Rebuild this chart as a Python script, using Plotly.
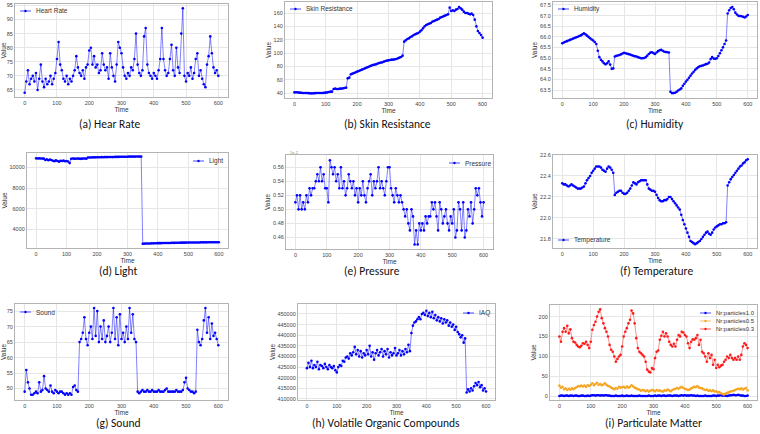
import plotly.graph_objects as go

W, H = 760, 434

# ---------------- data ----------------
TIME = list(range(0, 601, 5))

HEART_RATE = [64, 68, 72, 67, 69, 70, 68, 71, 65, 69,
              74, 68, 66, 69, 67, 68, 70, 67, 69, 71,
              76, 82, 74, 72, 69, 68, 70, 67, 69, 68,
              70, 72, 77, 73, 71, 70, 72, 69, 73, 74,
              79, 80, 74, 77, 73, 74, 71, 72, 78, 74,
              72, 73, 69, 78, 73, 70, 68, 74, 82, 80,
              78, 73, 70, 69, 71, 70, 73, 72, 76, 85,
              74, 71, 70, 72, 84, 87, 74, 71, 70, 69,
              71, 70, 69, 72, 76, 87, 76, 72, 70, 71,
              76, 81, 72, 70, 80, 73, 71, 85, 94, 70,
              68, 71, 70, 73, 69, 71, 76, 78, 70, 72,
              69, 67, 66, 74, 77, 84, 78, 73, 71, 72,
              70]

SKIN_RESISTANCE = [41, 41, 41, 40.5, 40.5, 40, 40, 40, 40, 39.8,
                   39.5, 39.5, 39.5, 39.8, 40, 40, 40, 40, 40, 40.2,
                   40.5, 41, 41.5, 42, 42, 46, 46.5, 46, 46, 46.5,
                   46.5, 47, 47.5, 48, 62, 63, 68, 69, 70, 71,
                   72, 73, 74, 75, 76, 77, 78, 79, 80, 81,
                   82, 82.5, 83, 84, 85, 85.5, 86, 87, 88, 88.5,
                   89, 89.5, 90, 90, 90.5, 91, 92, 93, 94, 96,
                   117, 119, 121, 122, 124, 125, 127, 128, 129, 130,
                   132, 134, 137, 140, 142, 143, 144, 145, 147, 148,
                   149, 150, 151, 153, 154, 155, 156, 157, 158, 168,
                   163, 164, 163, 165, 166, 169, 167, 165, 162, 160,
                   160, 159, 158, 159, 157, 150, 140, 133, 130, 127,
                   123]

HUMIDITY = [65.70, 65.74, 65.77, 65.80, 65.83, 65.86, 65.89, 65.92, 65.95, 65.98,
            66.01, 66.04, 66.07, 66.12, 66.17, 66.12, 66.06, 66.00, 65.94, 65.88,
            65.83, 65.76, 65.67, 65.35, 65.05, 64.93, 64.85, 64.76, 64.71, 64.76,
            64.85, 64.70, 64.50, 64.52, 65.08, 65.11, 65.13, 65.15, 65.18, 65.22,
            65.25, 65.23, 65.21, 65.19, 65.17, 65.14, 65.11, 65.09, 65.08, 65.05,
            65.02, 65.00, 65.00, 65.01, 65.05, 65.12, 65.20, 65.26, 65.28, 65.24,
            65.20, 65.27, 65.33, 65.37, 65.39, 65.35, 65.30, 65.29, 65.28, 65.27,
            63.42, 63.36, 63.36, 63.38, 63.42, 63.48, 63.53, 63.58, 63.70, 63.80,
            63.90, 63.99, 64.08, 64.18, 64.28, 64.36, 64.45, 64.52, 64.58, 64.62,
            64.64, 64.66, 64.69, 64.72, 64.74, 64.80, 64.96, 65.05, 64.98, 64.97,
            65.00, 65.10, 65.23, 65.37, 65.51, 65.67, 65.83, 67.10, 67.25, 67.36,
            67.40, 67.30, 67.14, 67.05, 66.99, 66.98, 66.97, 66.95, 66.91, 66.96,
            67.03]

LIGHT = [10880, 10870, 10880, 10870, 10860, 10850, 10720, 10780, 10700, 10760,
         10720, 10650, 10610, 10680, 10620, 10560, 10640, 10620, 10660, 10600,
         10620, 10580, 10420, 10830, 10860, 10850, 10840, 10860, 10850, 10830,
         10850, 10860, 10860, 10850, 10960, 10970, 10970, 10980, 10980, 10980,
         10990, 10990, 10990, 11000, 10990, 11000, 11000, 11000, 11010, 11010,
         11000, 11010, 11020, 11020, 11020, 11030, 11030, 11030, 11040, 11040,
         11040, 11050, 11050, 11050, 11050, 11050, 11060, 11060, 11050, 11050,
         2590, 2600, 2610, 2610, 2620, 2620, 2630, 2630, 2640, 2640,
         2650, 2650, 2650, 2660, 2660, 2660, 2670, 2670, 2670, 2680,
         2680, 2680, 2690, 2690, 2690, 2700, 2700, 2700, 2700, 2710,
         2710, 2710, 2710, 2720, 2720, 2720, 2720, 2720, 2730, 2730,
         2730, 2730, 2730, 2740, 2740, 2740, 2740, 2740, 2740, 2740,
         2740]

PRESSURE = [0.51, 0.52, 0.50, 0.52, 0.50, 0.51, 0.50, 0.52, 0.51, 0.53,
            0.52, 0.53, 0.53, 0.54, 0.55, 0.54, 0.56, 0.54, 0.55, 0.53,
            0.53, 0.51, 0.57, 0.56, 0.55, 0.56, 0.54, 0.55, 0.53, 0.56,
            0.53, 0.54, 0.52, 0.53, 0.55, 0.54, 0.53, 0.54, 0.52, 0.53,
            0.51, 0.53, 0.52, 0.54, 0.52, 0.51, 0.53, 0.54, 0.55, 0.52,
            0.54, 0.53, 0.54, 0.56, 0.53, 0.54, 0.53, 0.52, 0.54, 0.56,
            0.56, 0.53, 0.52, 0.51, 0.53, 0.52, 0.51, 0.52, 0.51, 0.50,
            0.49, 0.50, 0.48, 0.47, 0.50, 0.49, 0.45, 0.47, 0.45, 0.48,
            0.47, 0.48, 0.47, 0.49, 0.48, 0.49, 0.49, 0.51, 0.50, 0.51,
            0.49, 0.47, 0.51, 0.50, 0.48, 0.49, 0.50, 0.48, 0.47, 0.49,
            0.48, 0.50, 0.46, 0.47, 0.51, 0.50, 0.47, 0.51, 0.46, 0.47,
            0.50, 0.49, 0.51, 0.48, 0.50, 0.53, 0.52, 0.53, 0.51, 0.49,
            0.51]

TEMPERATURE = [22.33, 22.32, 22.32, 22.31, 22.30, 22.31, 22.32, 22.31, 22.30, 22.29,
               22.28, 22.28, 22.28, 22.29, 22.30, 22.33, 22.36, 22.38, 22.40, 22.43,
               22.45, 22.47, 22.49, 22.49, 22.49, 22.48, 22.46, 22.45, 22.44, 22.47,
               22.49, 22.48, 22.46, 22.43, 22.22, 22.24, 22.25, 22.26, 22.26, 22.24,
               22.23, 22.23, 22.24, 22.26, 22.28, 22.31, 22.34, 22.33, 22.32, 22.34,
               22.35, 22.36, 22.36, 22.36, 22.36, 22.32, 22.28, 22.27, 22.26, 22.26,
               22.25, 22.22, 22.19, 22.17, 22.16, 22.16, 22.17, 22.17, 22.18, 22.20,
               22.20, 22.18, 22.16, 22.14, 22.12, 22.10, 22.08, 22.03, 21.98, 21.94,
               21.90, 21.86, 21.82, 21.78, 21.77, 21.76, 21.75, 21.76, 21.77, 21.78,
               21.80, 21.82, 21.84, 21.86, 21.87, 21.85, 21.84, 21.86, 21.89, 21.91,
               21.92, 21.93, 21.94, 21.94, 21.95, 21.95, 21.96, 22.31, 22.34, 22.37,
               22.39, 22.41, 22.43, 22.45, 22.47, 22.49, 22.50, 22.52, 22.53, 22.55,
               22.56]

SOUND = [49, 56, 52, 50, 48, 48, 48.5, 49, 48.5, 52,
         49, 49.5, 54, 50, 49.5, 49, 51, 49, 48.5, 49.5,
         49, 48.5, 49, 49, 48.5, 48, 48.5, 48, 48.5, 48,
         50.5, 51, 49.5, 49, 65, 66, 68, 73, 66, 64,
         68, 70, 66, 76, 67, 75, 65, 70, 66, 72,
         65, 67, 70, 65, 68, 76, 66, 73, 64, 74,
         66, 68, 65, 70, 66, 76, 68, 74, 66, 65,
         49, 48.5, 49, 49.5, 49, 49, 49.5, 49, 49, 49.5,
         49, 49, 49, 49.5, 49, 49, 49, 49.5, 50, 49,
         49, 49, 49, 49, 49.5, 49, 49, 49, 49.5, 52,
         53.5, 50, 49.5, 49, 49, 48.5, 49, 69, 65, 64,
         66, 72, 76, 68, 73, 66, 71, 67, 68, 66,
         64]

IAQ = [424500, 427000, 425000, 428000, 424500, 426000, 425000, 427500, 424000, 426000,
       425500, 424500, 426500, 425000, 424000, 426000, 425000, 424500, 425500, 423500,
       422500, 425000, 426000, 425500, 428000, 427500, 429500, 430000, 429000, 431500,
       430500, 432000, 434500, 431000, 433000, 430000, 432500, 429500, 431500, 430500,
       433000, 431000, 435000, 430000, 432000, 428500, 431500, 433000, 430500, 432000,
       433500, 430000, 432500, 431000, 433500, 429500, 432000, 430500, 431500, 434000,
       430500, 431500, 433000, 430500, 432500, 431000, 433500, 432000, 435500, 432500,
       441000, 444500, 446000, 446500, 447500, 448500, 447500, 450000, 450500, 449500,
       451500, 449000, 450500, 448500, 451000, 448000, 449500, 447000, 448500, 446500,
       448000, 445500, 447500, 446000, 447000, 444500, 446000, 444000, 445000, 442500,
       444000, 441500, 440500, 439000, 440000, 436500, 438500, 413000, 414500, 413500,
       415000, 414000, 416000, 417500, 416500, 418000, 415500, 416500, 414000, 415000,
       413500]

PARTICLES_1_0 = [1, 2, 2, 1, 2, 2, 1, 2, 2, 1,
                 2, 2, 1, 1, 2, 2, 1, 1, 2, 1,
                 2, 3, 3, 2, 3, 3, 2, 3, 2, 3,
                 3, 2, 2, 1, 1, 1, 2, 1, 1, 1,
                 2, 1, 1, 2, 1, 1, 2, 1, 1, 1,
                 1, 2, 1, 1, 1, 1, 1, 2, 1, 1,
                 1, 2, 1, 2, 2, 1, 2, 2, 1, 2,
                 2, 2, 1, 2, 2, 2, 1, 2, 3, 2,
                 3, 2, 2, 2, 3, 2, 2, 1, 2, 1,
                 1, 1, 1, 2, 1, 1, 1, 1, 2, 2,
                 1, 2, 2, 3, 2, 2, 2, 1, 2, 3,
                 3, 4, 3, 3, 4, 3, 2, 2, 1, 1,
                 2]

PARTICLES_0_5 = [27, 22, 24, 18, 20, 16, 19, 17, 20, 18,
                 21, 23, 26, 25, 27, 25, 27, 24, 28, 26,
                 29, 33, 28, 31, 34, 29, 31, 28, 30, 33,
                 29, 26, 25, 22, 20, 18, 21, 19, 24, 22,
                 23, 24, 21, 25, 22, 24, 28, 25, 22, 20,
                 18, 17, 14, 16, 15, 13, 15, 12, 14, 16,
                 15, 13, 16, 14, 15, 13, 12, 15, 14, 17,
                 15, 13, 16, 18, 19, 21, 19, 22, 24, 21,
                 19, 18, 16, 17, 20, 22, 24, 23, 26, 22,
                 21, 20, 18, 16, 17, 14, 15, 13, 15, 12,
                 13, 10, 11, 8, 6, 5, 7, 9, 10, 12,
                 13, 14, 16, 18, 19, 18, 20, 17, 19, 21,
                 15]

PARTICLES_0_3 = [150, 137, 162, 171, 162, 177, 158, 168, 146, 137,
                 135, 129, 125, 123, 127, 133, 132, 137, 129, 121,
                 137, 167, 179, 187, 200, 212, 218, 196, 183, 171,
                 162, 150, 129, 117, 112, 100, 87, 94, 100, 104,
                 125, 150, 162, 171, 183, 192, 215, 208, 183, 146,
                 121, 112, 108, 104, 100, 87, 67, 62, 60, 71,
                 68, 96, 112, 115, 142, 152, 162, 150, 158, 150,
                 137, 129, 125, 132, 125, 142, 154, 150, 162, 160,
                 154, 150, 133, 121, 137, 143, 142, 146, 154, 129,
                 142, 112, 108, 100, 87, 108, 96, 104, 79, 92,
                 71, 79, 73, 77, 79, 87, 92, 100, 96, 104,
                 96, 92, 96, 92, 100, 92, 104, 125, 133, 129,
                 121]

X_TICKS = [0, 100, 200, 300, 400, 500, 600]
Y_TICKS_HR = [65, 70, 75, 80, 85, 90, 95]
Y_TICKS_SKIN = [40, 60, 80, 100, 120, 140, 160]
Y_TICKS_HUM = [63.5, 64.0, 64.5, 65.0, 65.5, 66.0, 66.5, 67.0, 67.5]
Y_TICKS_LIGHT = [4000, 6000, 8000, 10000]
Y_TICKS_PRES = [0.46, 0.48, 0.50, 0.52, 0.54, 0.56]
Y_TICKS_TEMP = [21.8, 22.0, 22.2, 22.4, 22.6]
Y_TICKS_SOUND = [50, 55, 60, 65, 70, 75]
Y_TICKS_IAQ = [410000, 415000, 420000, 425000, 430000, 435000, 440000, 445000, 450000]
Y_TICKS_PM = [0, 50, 100, 150, 200]

# ---------------- styling / layout ----------------
BLUE = "#0000ff"
ORANGE = "#f5a623"
RED = "#ff1a1a"

def rgba(hexc, a):
    h = hexc.lstrip("#")
    return "rgba(%d,%d,%d,%s)" % (int(h[0:2], 16), int(h[2:4], 16), int(h[4:6], 16), a)

def X(px):
    return px / W

def Y(py):
    return 1 - py / H

panels = [
    dict(series=[("Heart Rate", HEART_RATE, BLUE)], box=(15, 228, 4, 97), yr=[62.5, 95.5],
         yt=Y_TICKS_HR, fmt="d", cap="(a) Hear Rate", capxy=(109, 124), leg=(20, 11), lfs=6.5),
    dict(series=[("Skin Resistance", SKIN_RESISTANCE, BLUE)], box=(285, 492, 2, 98), yr=[32.5, 176.5],
         yt=Y_TICKS_SKIN, fmt="d", cap="(b) Skin Resistance", capxy=(387, 124), leg=(290, 9), lfs=6.5),
    dict(series=[("Humidity", HUMIDITY, BLUE)], box=(553, 757, 2, 98), yr=[63.13, 67.64],
         yt=Y_TICKS_HUM, fmt=".1f", cap="(c) Humidity", capxy=(655, 124), leg=(558, 9), lfs=6.5),
    dict(series=[("Light", LIGHT, BLUE)], box=(27, 228, 153, 248), yr=[2180, 11400],
         yt=Y_TICKS_LIGHT, fmt="d", cap="(d) Light", capxy=(118, 271), leg=(193, 161), lfs=6.5),
    dict(series=[("Pressure", PRESSURE, BLUE)], box=(286, 493, 155, 249), yr=[0.4435, 0.5775],
         yt=Y_TICKS_PRES, fmt=".2f", cap="(e) Pressure", capxy=(372, 271), leg=(449, 163), lfs=6.5),
    dict(series=[("Temperature", TEMPERATURE, BLUE)], box=(553, 757, 155, 248), yr=[21.714, 22.60],
         yt=Y_TICKS_TEMP, fmt=".1f", cap="(f) Temperature", capxy=(656, 271), leg=(558, 240), lfs=6.5),
    dict(series=[("Sound", SOUND, BLUE)], box=(15, 228, 304, 400), yr=[46.3, 77.3],
         yt=Y_TICKS_SOUND, fmt="d", cap="(g) Sound", capxy=(118, 423), leg=(20, 312), lfs=6.5),
    dict(series=[("IAQ", IAQ, BLUE)], box=(298, 495, 304, 400), yr=[409500, 454700],
         yt=Y_TICKS_IAQ, fmt="d", cap="(h) Volatile Organic Compounds", capxy=(386, 423), leg=(463, 313), lfs=6.5),
    dict(series=[("Nr:particles1.0", PARTICLES_1_0, BLUE),
                 ("Nr:particles0.5", PARTICLES_0_5, ORANGE),
                 ("Nr:particles0.3", PARTICLES_0_3, RED)],
         box=(550, 757, 305, 400), yr=[-9, 229],
         yt=Y_TICKS_PM, fmt="d", cap="(i) Particulate Matter", capxy=(653, 423), leg=(700, 313), lfs=5.9),
]

FAM = "Liberation Sans, Arial, sans-serif"
TICK_FONT = dict(family=FAM, size=5.5, color="#444444")
TITLE_FONT = dict(family=FAM, size=6.5, color="#333333")
CAP_FONT = dict(family="Carlito, Lato, sans-serif", size=11.5, color="#111111")

fig = go.Figure()
layout = dict(width=W, height=H, margin=dict(l=0, r=0, t=0, b=0),
              paper_bgcolor="white", plot_bgcolor="white", showlegend=False)
shapes, annotations = [], []

for i, p in enumerate(panels, start=1):
    suf = "" if i == 1 else str(i)
    l, r, t, b = p["box"]
    for name, vals, col in p["series"]:
        fig.add_trace(go.Scatter(
            x=TIME, y=vals, name=name, mode="lines+markers",
            xaxis="x" + suf, yaxis="y" + suf,
            line=dict(color=rgba(col, 0.55), width=0.9),
            marker=dict(color=col, size=2.6, line=dict(width=0)),
        ))
    axis_common = dict(showline=True, mirror=True, linecolor="#b3b3b3", linewidth=1.2,
                       showgrid=True, gridcolor="#e6e6e6", gridwidth=0.7,
                       zeroline=False, ticks="", tickfont=TICK_FONT, automargin=False)
    layout["xaxis" + suf] = dict(axis_common, domain=[X(l), X(r)], anchor="y" + suf,
                                 range=[-30, 630], tickvals=X_TICKS, tickformat="d",
                                 title=dict(text="Time", font=TITLE_FONT, standoff=0))
    layout["yaxis" + suf] = dict(axis_common, domain=[Y(b), Y(t)], anchor="x" + suf,
                                 range=p["yr"], tickvals=p["yt"], tickformat=p["fmt"],
                                 title=dict(text="Value", font=TITLE_FONT, standoff=1))
    # caption
    cx, cy = p["capxy"]
    annotations.append(dict(text=p["cap"], xref="paper", yref="paper", x=X(cx), y=Y(cy),
                            xanchor="center", yanchor="middle", showarrow=False, font=CAP_FONT))
    # legend entries
    lx, ly = p["leg"]
    for k, (name, vals, col) in enumerate(p["series"]):
        yy = ly + 8 * k
        shapes.append(dict(type="line", xref="paper", yref="paper", x0=X(lx), x1=X(lx + 11),
                           y0=Y(yy), y1=Y(yy), line=dict(color=rgba(col, 0.7), width=1)))
        shapes.append(dict(type="circle", xref="paper", yref="paper", x0=X(lx + 4.3), x1=X(lx + 6.7),
                           y0=Y(yy + 1.2), y1=Y(yy - 1.2), fillcolor=col, line=dict(width=0)))
        annotations.append(dict(text=name, xref="paper", yref="paper", x=X(lx + 14), y=Y(yy),
                                xanchor="left", yanchor="middle", showarrow=False,
                                font=dict(family=FAM, size=p["lfs"], color="#333333")))

# small offset label on the pressure panel
annotations.append(dict(text="1e-2", xref="paper", yref="paper", x=X(288), y=Y(152.5),
                        xanchor="left", yanchor="middle", showarrow=False,
                        font=dict(family=FAM, size=4, color="#888888")))

layout["shapes"] = shapes
layout["annotations"] = annotations
fig.update_layout(**layout)
fig.write_html("out.html")
